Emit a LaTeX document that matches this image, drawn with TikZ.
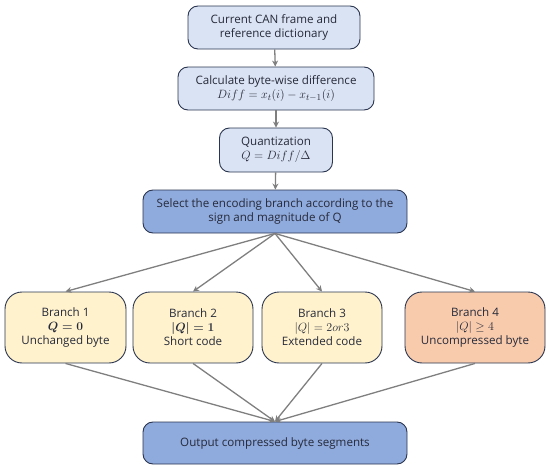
\documentclass[tikz,border=0pt]{standalone}
\usepackage{fontspec}
\setmainfont{Open Sans}
\usetikzlibrary{arrows.meta}
\definecolor{lblue}{HTML}{DAE3F3}
\definecolor{mblue}{HTML}{8FAADC}
\definecolor{lyel}{HTML}{FFF2CC}
\definecolor{lorg}{HTML}{F8CBAD}
\definecolor{edge}{HTML}{2A3550}
\definecolor{txt}{HTML}{262A3A}
\definecolor{arr}{HTML}{7F7F7F}
\newcommand{\mth}[1]{{\fontsize{12.8}{14}\selectfont$#1$}}
\tikzset{
  box/.style={draw=edge, line width=0.9pt, rounded corners=10pt, align=center,
    inner sep=1pt, text=txt, font=\fontsize{11.6}{14}\selectfont},
  branch/.style={box, rounded corners=17pt, fill=lyel, minimum height=71pt},
  conn/.style={draw=arr, line width=1.3pt, -{Stealth[length=6pt,width=6pt]}}
}
\begin{document}
\begin{tikzpicture}[x=1pt,y=-1pt]
\useasboundingbox (0,0) rectangle (550,471);
\node[box, fill=lblue, minimum width=172pt, minimum height=43pt] (cur) at (274,27.5) {Current CAN frame and\\reference dictionary};
\node[box, fill=lblue, minimum width=196pt, minimum height=43pt] (diff) at (276,88.5) {Calculate byte-wise difference\\\mth{Diff=x_t(i)-x_{t-1}(i)}};
\node[box, fill=lblue, minimum width=113pt, minimum height=44pt] (quant) at (276,150) {Quantization\\\mth{Q=Diff/\Delta}};
\node[box, fill=mblue, minimum width=264pt, minimum height=43pt] (sel) at (275,211.5) {Select the encoding branch according to the\\sign and magnitude of Q};
\node[branch, minimum width=121pt] (b1) at (65.5,327.5) {Branch 1\\{\boldmath\mth{Q=0}}\\Unchanged byte};
\node[branch, minimum width=120pt] (b2) at (193,327.5) {Branch 2\\{\boldmath\mth{|Q|=1}}\\Short code};
\node[branch, minimum width=120pt] (b3) at (322,327.5) {Branch 3\\\mth{|Q|=2or3}\\Extended code};
\node[branch, fill=lorg, minimum width=140pt] (b4) at (475,327.5) {Branch 4\\\mth{|Q|\geq 4}\\Uncompressed byte};
\node[box, fill=mblue, minimum width=264pt, minimum height=42pt] (out) at (275,443) {Output compressed byte segments};
\draw[conn] (cur) -- (diff);
\draw[conn] (diff) -- (quant);
\draw[conn] (quant) -- (sel);
\foreach \b in {b1,b2,b3,b4} {\draw[conn] (sel.south) -- (\b.north);}
\foreach \b in {b1,b2,b3,b4} {\draw[conn] (\b.south) -- (out.north);}
\end{tikzpicture}
\end{document}
